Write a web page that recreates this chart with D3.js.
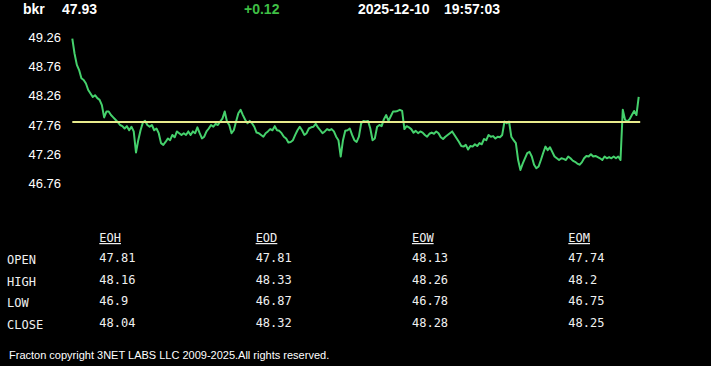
<!DOCTYPE html>
<html>
<head>
<meta charset="utf-8">
<script src="https://cdn.jsdelivr.net/npm/d3@7"></script>
<style>
  body { margin: 0; background: #000; }
  svg { display: block; }
</style>
</head>
<body>
<svg id="chart" width="711" height="366"></svg>
<script>
// header
const symbol = "bkr";
const lastPrice = "47.93";
const change = "+0.12";
const quoteDate = "2025-12-10";
const quoteTime = "19:57:03";
const prevClose = 47.81;

// y ticks
const yTicks = [49.26, 48.76, 48.26, 47.76, 47.26, 46.76];

// intraday prices
const prices = [
  49.24, 48.98, 48.79, 48.70, 48.56, 48.53, 48.47, 48.36, 48.30, 48.24, 48.27, 48.22, 48.19, 48.10, 47.89, 47.99,
  47.99, 47.93, 47.89, 47.85, 47.81, 47.76, 47.74, 47.70, 47.74, 47.67, 47.73, 47.65, 47.29, 47.50, 47.67, 47.80,
  47.83, 47.76, 47.73, 47.76, 47.67, 47.70, 47.62, 47.45, 47.42, 47.47, 47.53, 47.50, 47.59, 47.55, 47.65, 47.62,
  47.59, 47.62, 47.59, 47.65, 47.59, 47.65, 47.62, 47.72, 47.62, 47.53, 47.56, 47.65, 47.70, 47.76, 47.73, 47.78,
  47.76, 47.82, 47.87, 47.99, 47.82, 47.76, 47.62, 47.67, 47.82, 47.96, 48.02, 47.93, 47.85, 47.79, 47.83, 47.79,
  47.73, 47.63, 47.62, 47.59, 47.56, 47.62, 47.65, 47.69, 47.67, 47.74, 47.67, 47.66, 47.62, 47.56, 47.53, 47.46,
  47.47, 47.50, 47.59, 47.67, 47.73, 47.67, 47.59, 47.62, 47.70, 47.72, 47.73, 47.78, 47.72, 47.67, 47.62, 47.65,
  47.69, 47.67, 47.69, 47.65, 47.56, 47.50, 47.22, 47.50, 47.66, 47.67, 47.70, 47.59, 47.50, 47.47, 47.56, 47.79,
  47.83, 47.82, 47.83, 47.70, 47.50, 47.53, 47.73, 47.76, 47.74, 47.86, 47.93, 47.83, 47.91, 47.99, 47.99, 48.00,
  48.02, 48.00, 47.69, 47.74, 47.72, 47.69, 47.63, 47.66, 47.62, 47.65, 47.63, 47.59, 47.56, 47.61, 47.63, 47.61,
  47.65, 47.62, 47.55, 47.52, 47.56, 47.59, 47.62, 47.65, 47.59, 47.53, 47.47, 47.40, 47.39, 47.42, 47.34, 47.40,
  47.39, 47.43, 47.40, 47.45, 47.43, 47.52, 47.50, 47.59, 47.56, 47.57, 47.53, 47.56, 47.55, 47.59, 47.82, 47.79,
  47.82, 47.56, 47.50, 47.45, 47.16, 46.99, 47.10, 47.19, 47.28, 47.30, 47.22, 47.08, 47.02, 47.05, 47.16, 47.28,
  47.39, 47.33, 47.38, 47.30, 47.22, 47.19, 47.16, 47.19, 47.18, 47.16, 47.22, 47.19, 47.15, 47.13, 47.10, 47.08,
  47.12, 47.19, 47.23, 47.22, 47.26, 47.22, 47.23, 47.21, 47.19, 47.16, 47.22, 47.19, 47.21, 47.19, 47.22, 47.19,
  47.22, 47.16, 48.02, 47.85, 47.82, 47.86, 47.93, 48.00, 47.93, 48.24
];

// table
const periods = ["EOH", "EOD", "EOW", "EOM"];
const rowLabels = ["OPEN", "HIGH", "LOW", "CLOSE"];
const openVals = [47.81, 47.81, 48.13, 47.74];
const highVals = [48.16, 48.33, 48.26, 48.2];
const lowVals = [46.9, 46.87, 46.78, 46.75];
const closeVals = [48.04, 48.32, 48.28, 48.25];

const footer = "Fracton copyright 3NET LABS LLC 2009-2025.All rights reserved.";

let svg = d3.select("#chart");

// header line
let header = svg.append("g")
    .attr("font-family", "Liberation Sans, Arial, sans-serif")
    .attr("font-size", 14)
    .attr("font-weight", "bold");

header.append("text").attr("x", 23).attr("y", 14).attr("fill", "#fff").text(symbol);
header.append("text").attr("x", 62).attr("y", 14).attr("fill", "#fff").text(lastPrice);
header.append("text").attr("x", 244).attr("y", 14).attr("fill", "#3fbf45").text(change);
header.append("text").attr("x", 358).attr("y", 14).attr("fill", "#fff").text(quoteDate);
header.append("text").attr("x", 444).attr("y", 14).attr("fill", "#fff").text(quoteTime);

// scales
let x = d3.scaleLinear()
    .domain([0, prices.length - 1])
    .range([72.3, 638.7]);

let y = d3.scaleLinear()
    .domain([46.76, 49.26])
    .range([183.4, 37.4]);

// y axis
let yAxis = svg.append("g")
    .attr("transform", "translate(61,0)")
    .call(d3.axisLeft(y).tickValues(yTicks).tickSize(0).tickPadding(0).tickFormat(d3.format(".2f")));

yAxis.select(".domain").remove();
yAxis.selectAll("text")
    .attr("fill", "#fff")
    .attr("font-family", "Liberation Sans, Arial, sans-serif")
    .attr("font-size", 13);

// price line
let line = d3.line()
    .x((d, i) => x(i))
    .y(d => y(d));

svg.append("path")
    .datum(prices)
    .attr("fill", "none")
    .attr("stroke", "#45d16c")
    .attr("stroke-width", 2)
    .attr("stroke-linejoin", "round")
    .attr("d", line);

// previous close
svg.append("line")
    .attr("x1", x(0))
    .attr("x2", x(prices.length - 1) + 1.5)
    .attr("y1", y(prevClose))
    .attr("y2", y(prevClose))
    .attr("stroke", "#e8eb8c")
    .attr("stroke-width", 2);

// table
let colX = d3.scalePoint().domain(periods).range([99.3, 568.3]);
let rowY = d3.scalePoint().domain(rowLabels).range([262, 327]);

let table = svg.append("g")
    .attr("font-family", "DejaVu Sans Mono, monospace")
    .attr("font-size", 12)
    .attr("fill", "#f0f0f0");

table.selectAll(".period")
    .data(periods)
    .join("text")
    .attr("class", "period")
    .attr("x", d => colX(d))
    .attr("y", 242)
    .attr("text-decoration", "underline")
    .text(d => d);

table.selectAll(".rowlabel")
    .data(rowLabels)
    .join("text")
    .attr("class", "rowlabel")
    .attr("x", 7)
    .attr("y", d => rowY(d) + 2)
    .text(d => d);

let rows = [openVals, highVals, lowVals, closeVals];
rows.forEach(function(vals, r) {
    table.selectAll(".v" + r)
        .data(vals)
        .join("text")
        .attr("class", "v" + r)
        .attr("x", (d, i) => colX(periods[i]))
        .attr("y", rowY(rowLabels[r]))
        .text(d => String(d));
});

// footer
svg.append("text")
    .attr("x", 9)
    .attr("y", 359)
    .attr("fill", "#fff")
    .attr("font-family", "Liberation Sans, Arial, sans-serif")
    .attr("font-size", 11)
    .text(footer);
</script>
</body>
</html>
